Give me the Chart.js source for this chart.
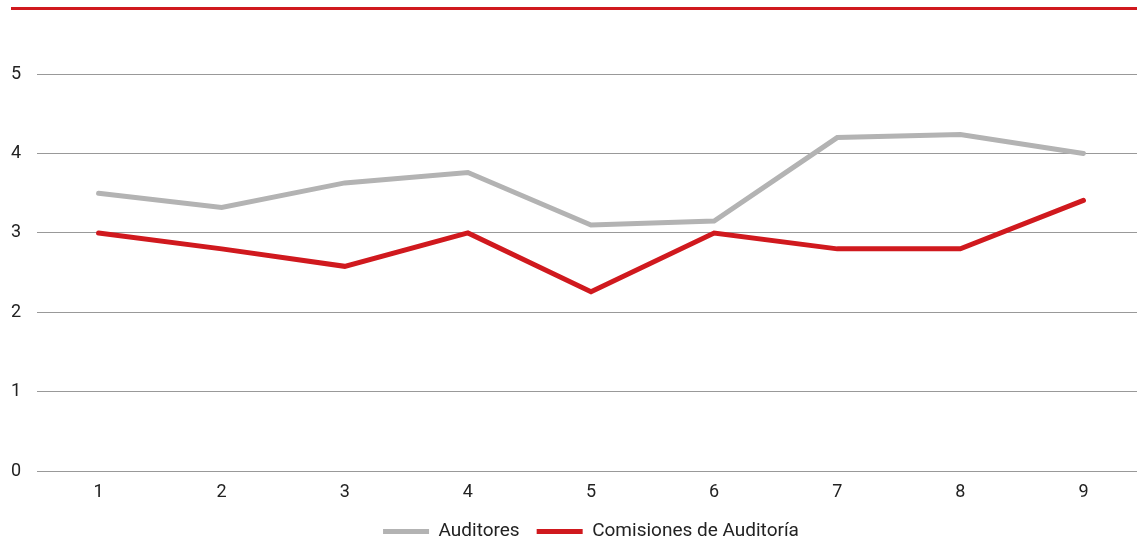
<!DOCTYPE html>
<html>
<head>
<meta charset="utf-8">
<script src="https://cdn.jsdelivr.net/npm/chart.js@4/dist/chart.umd.min.js"></script>
<style>
  html, body { margin: 0; padding: 0; background: #fff; overflow: hidden; }
  .topline { position: absolute; left: 11px; right: 0; top: 7px; height: 3px; background: #d0191e; }
  .wrap { position: absolute; left: 0; top: 0; width: 1145px; height: 543px; }
</style>
</head>
<body>
<div class="topline"></div>
<div class="wrap"><canvas id="lineChart"></canvas></div>
<script>
// Data
const categories = ['1', '2', '3', '4', '5', '6', '7', '8', '9'];
const auditores = [3.5, 3.32, 3.63, 3.76, 3.1, 3.15, 4.2, 4.24, 4.0];
const comisiones = [3.0, 2.8, 2.58, 3.0, 2.26, 3.0, 2.8, 2.8, 3.41];
const yTicks = [0, 1, 2, 3, 4, 5];

const ctx = document.getElementById('lineChart').getContext('2d');
const lineChart = new Chart(ctx, {
    type: 'line',
    data: {
        labels: categories,
        datasets: [{
            label: 'Auditores',
            data: auditores,
            borderColor: '#b3b3b3',
            backgroundColor: '#b3b3b3',
            borderWidth: 5,
            borderCapStyle: 'round',
            pointRadius: 0,
            tension: 0
        }, {
            label: 'Comisiones de Auditoría',
            data: comisiones,
            borderColor: '#d0191e',
            backgroundColor: '#d0191e',
            borderWidth: 5,
            borderCapStyle: 'round',
            pointRadius: 0,
            tension: 0
        }]
    },
    options: {
        responsive: true,
        maintainAspectRatio: false,
        animation: false,
        // negative bottom padding so the legend sits close to the axis
        layout: { padding: { top: 74, left: 0, right: 0, bottom: -8 } },
        scales: {
            x: {
                offset: true,
                grid: { display: false },
                border: { display: false },
                ticks: { color: '#222', font: { family: 'Roboto', size: 18 }, padding: 2 }
            },
            y: {
                min: 0,
                max: 5,
                afterBuildTicks: function(scale) {
                    scale.ticks = yTicks.map(v => ({ value: v }));
                },
                afterFit: function(scale) { scale.width = 37; },
                grid: { color: '#999', lineWidth: 1, drawTicks: false },
                border: { display: false },
                ticks: { color: '#222', font: { family: 'Roboto', size: 18 }, padding: 16 }
            }
        },
        plugins: {
            legend: {
                position: 'bottom',
                fullSize: false,
                labels: {
                    usePointStyle: true,
                    pointStyle: 'line',
                    pointStyleWidth: 46,
                    color: '#222',
                    font: { family: 'Roboto', size: 19 },
                    padding: 17
                }
            },
            tooltip: { enabled: false }
        }
    }
});
</script>
</body>
</html>
